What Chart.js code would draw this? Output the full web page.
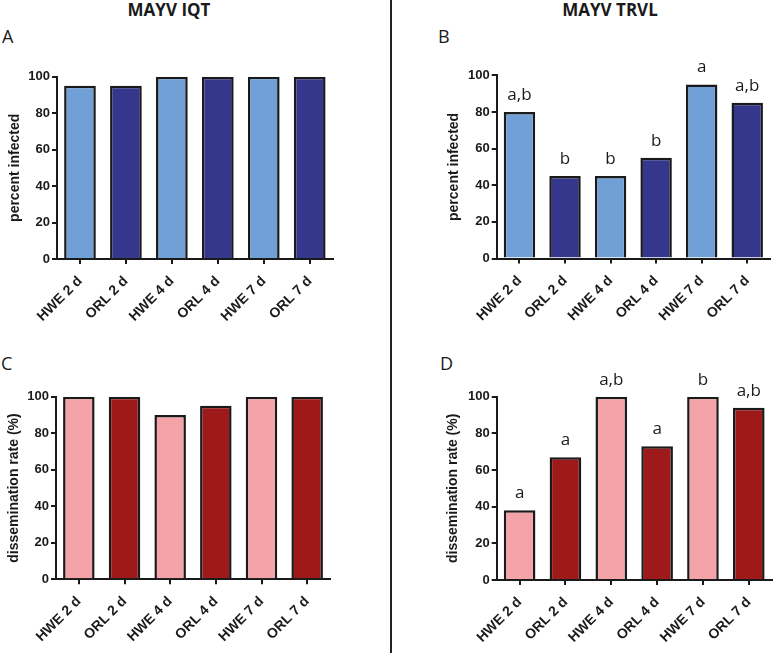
<!DOCTYPE html>
<html>
<head>
<meta charset="utf-8">
<script src="https://cdn.jsdelivr.net/npm/chart.js@4.4.1/dist/chart.umd.min.js"></script>
<style>
  body { margin: 0; width: 774px; height: 653px; background: #fff; position: relative; overflow: hidden; }
  canvas { position: absolute; }
  .t { position: absolute; font-family: "Open Sans", sans-serif; line-height: 1; color: #1a1a1a; white-space: nowrap; }
  .head { font-size: 17px; font-weight: 700; transform: translateX(-50%); }
  .tag { font-size: 18px; font-weight: 400; }
  #divider { position: absolute; left: 390px; top: 0; width: 2px; height: 653px; background: #222; }
</style>
</head>
<body>
<div class="t head" style="left:169px; top:1px;">MAYV IQT</div>
<div class="t head" style="left:610px; top:1px;">MAYV TRVL</div>
<div class="t tag" style="left:2px; top:27px;">A</div>
<div class="t tag" style="left:438px; top:27px;">B</div>
<div class="t tag" style="left:1px; top:354px;">C</div>
<div class="t tag" style="left:440px; top:354px;">D</div>
<div id="divider"></div>

<script>
const categories = ['HWE 2 d', 'ORL 2 d', 'HWE 4 d', 'ORL 4 d', 'HWE 7 d', 'ORL 7 d'];
const yTicks = [0, 20, 40, 60, 80, 100];

const iqtInfected = [95, 95, 100, 100, 100, 100];
const trvlInfected = [80, 45, 45, 55, 95, 85];
const trvlInfectedLetters = ['a,b', 'b', 'b', 'b', 'a', 'a,b'];

const iqtDissemination = [100, 100, 90, 95, 100, 100];
const trvlDissemination = [38, 67, 100, 73, 100, 94];
const trvlDisseminationLetters = ['a', 'a', 'a,b', 'a', 'b', 'a,b'];

const blues = ['#71a0d7', '#35378c'];
const reds = ['#f4a4a8', '#9e1a1a'];

const ink = '#1a1a1a';
const family = '"Liberation Sans", Arial, sans-serif';
const tickFont = { family: family, size: 13, weight: 'bold' };
const catFont = { family: family, size: 14, weight: 'bold' };
const titleFont = { family: family, size: 14, weight: 'bold' };

// L/R/T/B = where the plot area should land on the page
function makePanel(box, values, letters, palette, yTitle) {
    const cv = document.createElement('canvas');
    cv.width = box.width;
    cv.height = box.height;
    cv.style.left = box.left + 'px';
    cv.style.top = box.top + 'px';
    document.body.appendChild(cv);

    const yW = box.L - box.left;
    const xH = box.top + box.height - box.B;

    const letterPlugin = {
        id: 'letters',
        afterDatasetsDraw(chart) {
            if (!letters) return;
            const ctx = chart.ctx;
            ctx.save();
            ctx.font = '17px "Open Sans"';
            ctx.fillStyle = ink;
            ctx.textAlign = 'center';
            ctx.textBaseline = 'alphabetic';
            chart.getDatasetMeta(0).data.forEach((bar, i) => {
                ctx.fillText(letters[i], bar.x, bar.y - 12);
            });
            ctx.restore();
        }
    };

    new Chart(cv.getContext('2d'), {
        type: 'bar',
        data: {
            labels: categories,
            datasets: [{
                data: values,
                backgroundColor: categories.map((c, i) => palette[i % 2]),
                borderColor: ink,
                borderWidth: 2.5,
                barPercentage: 0.69,
                categoryPercentage: 1
            }]
        },
        options: {
            responsive: false,
            animation: false,
            layout: { padding: { top: box.T - box.top, right: box.left + box.width - box.R, left: 0, bottom: 0 } },
            plugins: { legend: { display: false }, tooltip: { enabled: false } },
            scales: {
                x: {
                    offset: true,
                    grid: { display: true, drawOnChartArea: false, offset: false, tickLength: 5, lineWidth: 2, color: ink },
                    border: { color: ink, width: 2 },
                    ticks: { minRotation: 45, maxRotation: 45, autoSkip: false, padding: 9, font: catFont, color: ink },
                    afterFit(s) { s.height = xH; s.paddingLeft = 0; s.paddingRight = 0; }
                },
                y: {
                    min: 0,
                    max: 100,
                    afterBuildTicks(s) { s.ticks = yTicks.map(v => ({ value: v })); },
                    grid: { display: true, drawOnChartArea: false, tickLength: 5, lineWidth: 2, color: ink },
                    border: { color: ink, width: 2 },
                    ticks: { padding: 2, font: tickFont, color: ink },
                    title: { display: true, text: yTitle, font: titleFont, color: ink, padding: 0 },
                    afterFit(s) { s.width = yW; s.paddingTop = 0; s.paddingBottom = 0; }
                }
            }
        },
        plugins: [letterPlugin]
    });
}

makePanel({ left: 7, top: 40, width: 337, height: 300, L: 57, R: 332.7, T: 76.7, B: 259 },
    iqtInfected, null, blues, 'percent infected');
makePanel({ left: 446, top: 40, width: 328, height: 300, L: 496.7, R: 770, T: 75.3, B: 258.5 },
    trvlInfected, trvlInfectedLetters, blues, 'percent infected');
makePanel({ left: 6, top: 340, width: 338, height: 312, L: 56, R: 330, T: 396.7, B: 579.3 },
    iqtDissemination, null, reds, 'dissemination rate (%)');
makePanel({ left: 445, top: 340, width: 329, height: 312, L: 496.7, R: 771.7, T: 396.7, B: 580 },
    trvlDissemination, trvlDisseminationLetters, reds, 'dissemination rate (%)');
</script>
</body>
</html>
